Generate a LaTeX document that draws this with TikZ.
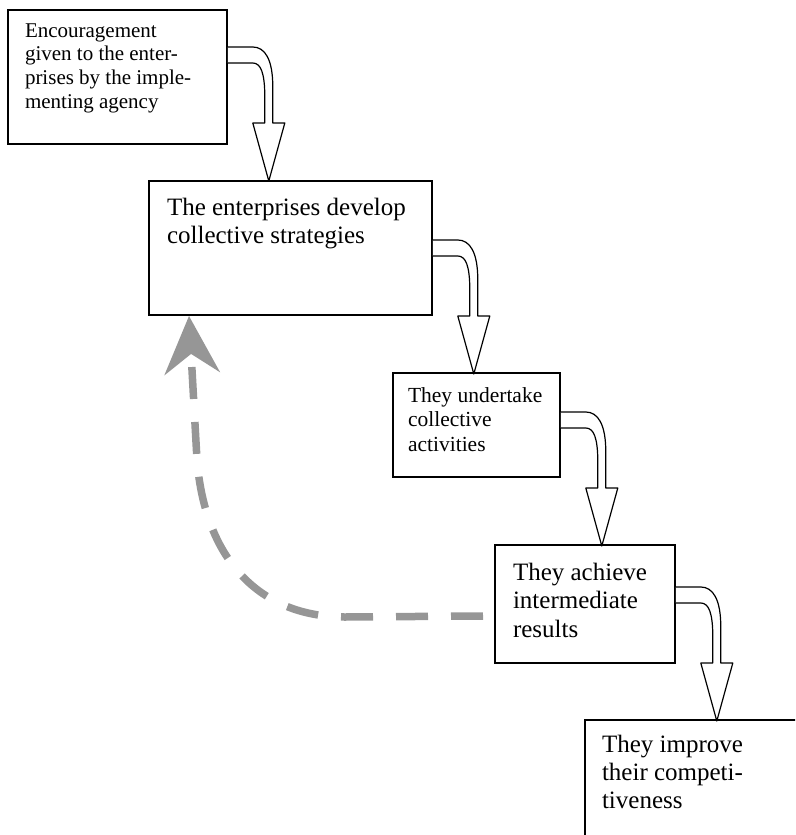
\documentclass[tikz,border=0pt]{standalone}
\usepackage{fontspec}
\setmainfont{Liberation Serif}
\usetikzlibrary{arrows.meta,calc}
\definecolor{fbgray}{RGB}{150,150,150}
\tikzset{
  box/.style={draw=black, line width=1.6pt, fill=white, rectangle, inner sep=0pt, outer sep=0pt, anchor=north west},
  lbl/.style={anchor=base west, inner sep=0pt, outer sep=0pt},
  blockarrow/.pic={
    \draw[line width=1.2pt, fill=white, line join=round]
      (0,0) -- (25,0) .. controls (37,0) and (45,12) .. (45,40) -- (45,76)
      -- (57,76) -- (41,134) -- (25,76) -- (37,76) -- (37,50)
      .. controls (37,26) and (33,16) .. (25,16) -- (0,16);
  },
  feedback/.style={draw=fbgray, line width=7.5pt, dash pattern=on 32pt off 23pt,
    -{Stealth[length=58pt,width=56pt,inset=20pt,line width=0pt,fill=fbgray]}}
}
\begin{document}
\begin{tikzpicture}[x=1pt,y=-1pt]
\useasboundingbox (0,0) rectangle (795,835);
\clip (0,0) rectangle (795,835);
% boxes
\node[box, minimum width=219pt, minimum height=134pt] (b1) at (8,10) {};
\node[box, minimum width=283pt, minimum height=134pt] (b2) at (149,181) {};
\node[box, minimum width=167pt, minimum height=104pt] (b3) at (393,373) {};
\node[box, minimum width=180pt, minimum height=118pt] (b4) at (495,545) {};
\node[box, minimum width=260pt, minimum height=160pt] (b5) at (585,720) {};
% texts
\node[lbl] (t1) at (25,37.5) {\parbox[t]{210pt}{\fontsize{21}{23.5}\selectfont Encouragement\\ given to the enter-\\ prises by the imple-\\ menting agency}};
\node[lbl] (t2) at (167,215) {\parbox[t]{270pt}{\fontsize{25}{28}\selectfont The enterprises develop\\ collective strategies}};
\node[lbl] (t3) at (408,402) {\parbox[t]{160pt}{\fontsize{21.5}{24.5}\selectfont They undertake\\ collective\\ activities}};
\node[lbl] (t4) at (513,580) {\parbox[t]{170pt}{\fontsize{25}{28.5}\selectfont They achieve\\ intermediate\\ results}};
\node[lbl] (t5) at (602,752) {\parbox[t]{190pt}{\fontsize{25}{28}\selectfont They improve\\ their competi-\\ tiveness}};
% block arrows
\pic at ($(b1.north east)+(0.8,37)$) {blockarrow};
\pic at ($(b2.north east)+(0.8,59)$) {blockarrow};
\pic at ($(b3.north east)+(0.8,39)$) {blockarrow};
\pic at ($(b4.north east)+(0.8,42)$) {blockarrow};
% feedback dashed arrow
\coordinate (fbstart) at ($(b4.west)+(-12,12)$);
\coordinate (fbend) at ($(b2.south west)+(40,1)$);
\draw[feedback] (fbstart) -- (345,617) .. controls (260,617) and (205,560) .. (197,460) -- (fbend);
\end{tikzpicture}
\end{document}
